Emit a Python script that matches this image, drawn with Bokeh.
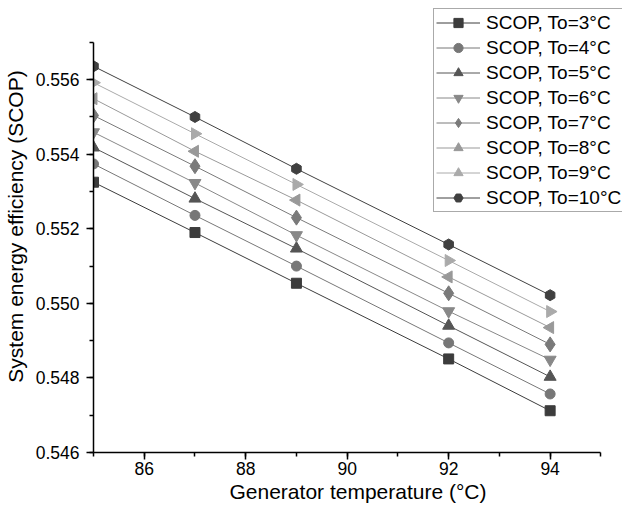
import numpy as np
from bokeh.plotting import figure
from bokeh.models import Range1d, SingleIntervalTicker, PrintfTickFormatter, Legend, LegendItem
from bokeh.embed import file_html
from bokeh.resources import INLINE

gen_temp = [85, 87, 89, 92, 94]
labels = ["SCOP, To=3°C", "SCOP, To=4°C", "SCOP, To=5°C", "SCOP, To=6°C",
          "SCOP, To=7°C", "SCOP, To=8°C", "SCOP, To=9°C", "SCOP, To=10°C"]
scop_3 = [0.55325, 0.55190, 0.55054, 0.54851, 0.54712]
scop_4 = [0.55374, 0.55236, 0.55100, 0.54894, 0.54757]
scop_5 = [0.55418, 0.55281, 0.55147, 0.54940, 0.54803]
scop_6 = [0.55459, 0.55323, 0.55183, 0.54979, 0.54849]
scop_7 = [0.55504, 0.55368, 0.55230, 0.55027, 0.54890]
scop_8 = [0.55549, 0.55408, 0.55277, 0.55071, 0.54935]
scop_9 = [0.55592, 0.55455, 0.55319, 0.55115, 0.54978]
scop_10 = [0.55636, 0.55500, 0.55361, 0.55158, 0.55022]
series = [scop_3, scop_4, scop_5, scop_6, scop_7, scop_8, scop_9, scop_10]

colors = ["#3c3c3c", "#777777", "#555555", "#888888", "#7a7a7a", "#999999", "#aaaaaa", "#404040"]
markers = ["square", "circle", "triangle", "inverted_triangle", "diamond", "triangle", "triangle", "hex"]
angles = [0, 0, 0, 0, 0, np.pi / 2, -np.pi / 2, np.pi / 6]
sizes = [10, 10, 12, 12, 15, 12, 12, 11]

FONT = "Liberation Sans"

W, H = 622, 505
LEFT, BOTTOM = 84, 52
X0, X1 = 85, 95
Y0, Y1 = 0.546, 0.557
x_px = 516.0   # pixels spanned by X0..X1
y_px = 411.0   # pixels spanned by Y0..Y1
frame_w = W - LEFT
frame_h = H - BOTTOM
x_end = X0 + frame_w * (X1 - X0) / x_px
y_end = Y0 + frame_h * (Y1 - Y0) / y_px

p = figure(width=W, height=H, output_backend="svg", toolbar_location=None,
           x_range=Range1d(X0, x_end), y_range=Range1d(Y0, y_end),
           min_border_left=LEFT, min_border_top=0, min_border_right=0, min_border_bottom=BOTTOM)
p.outline_line_color = None
p.xgrid.visible = False
p.ygrid.visible = False
p.background_fill_color = "white"

items = []
for ys, lab, c, m, a, s in zip(series, labels, colors, markers, angles, sizes):
    r1 = p.line(gen_temp, ys, line_color=c, line_width=1)
    r2 = p.scatter(gen_temp, ys, marker=m, angle=a, size=s, fill_color=c, line_color=c)
    items.append(LegendItem(label=lab, renderers=[r1, r2]))

legend = Legend(items=items, location=(340, 240))
legend.label_text_font = FONT
legend.label_text_font_size = "19px"
legend.label_text_color = "black"
legend.label_height = 23
legend.glyph_height = 23
legend.glyph_width = 44
legend.label_standoff = 6
legend.spacing = 2
legend.padding = 2
legend.margin = 0
legend.border_line_color = "#555555"
legend.border_line_width = 1
legend.background_fill_alpha = 1
p.add_layout(legend, "center")

for ax in (p.xaxis[0], p.yaxis[0]):
    ax.axis_line_width = 1.5
    ax.axis_line_color = "black"
    ax.major_tick_line_width = 1.5
    ax.minor_tick_line_width = 1.5
    ax.major_tick_out = 7
    ax.major_tick_in = 0
    ax.minor_tick_out = 4
    ax.minor_tick_in = 0
    ax.major_label_text_font = FONT
    ax.major_label_text_font_size = "17.5px"
    ax.major_label_text_color = "black"
    ax.axis_label_text_font = FONT
    ax.axis_label_text_font_size = "21px"
    ax.axis_label_text_font_style = "normal"
    ax.axis_label_text_color = "black"

p.xaxis[0].bounds = (X0, X1)
p.yaxis[0].bounds = (Y0, Y1)
p.xaxis[0].ticker = SingleIntervalTicker(interval=2, num_minor_ticks=2)
p.yaxis[0].ticker = SingleIntervalTicker(interval=0.002, num_minor_ticks=2)
p.yaxis[0].formatter = PrintfTickFormatter(format="%.3f")
p.xaxis[0].axis_label = "Generator temperature (°C)"
p.yaxis[0].axis_label = "System energy efficiency (SCOP)"
p.xaxis[0].major_label_standoff = 2
p.yaxis[0].major_label_standoff = 7
p.xaxis[0].axis_label_standoff = 2
p.yaxis[0].axis_label_standoff = 6

open("out.html", "w").write(file_html(p, INLINE))
